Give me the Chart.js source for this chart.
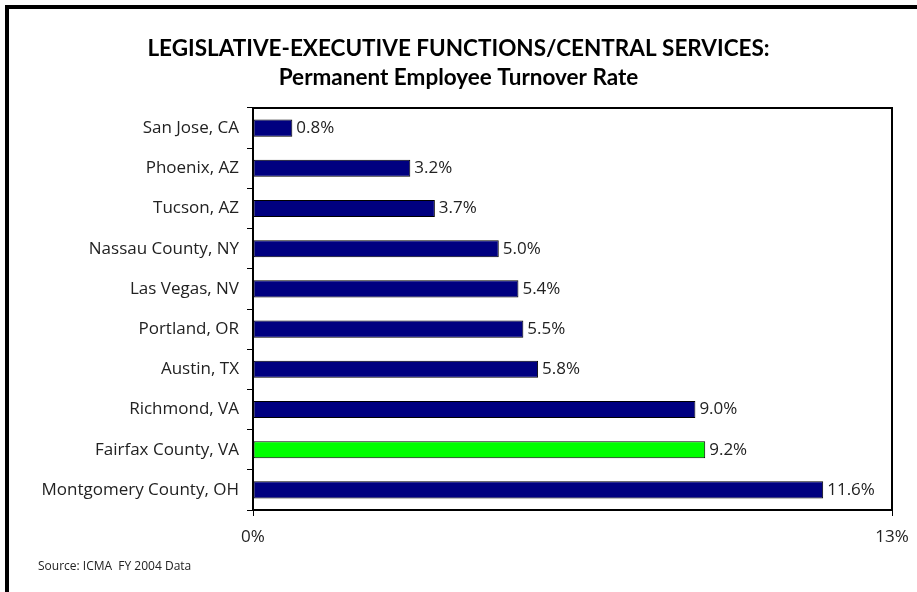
<!DOCTYPE html>
<html>
<head>
<meta charset="utf-8">
<script src="https://cdn.jsdelivr.net/npm/chart.js@4/dist/chart.umd.min.js"></script>
<style>
  body { margin: 0; background: #fff; }
  #wrap { position: relative; width: 917px; height: 592px; }
</style>
</head>
<body>
<div id="wrap"><canvas id="turnoverChart" width="917" height="592"></canvas></div>
<script>
const cities = ['San Jose, CA', 'Phoenix, AZ', 'Tucson, AZ', 'Nassau County, NY', 'Las Vegas, NV',
  'Portland, OR', 'Austin, TX', 'Richmond, VA', 'Fairfax County, VA', 'Montgomery County, OH'];
const turnover = [0.8, 3.2, 3.7, 5.0, 5.4, 5.5, 5.8, 9.0, 9.2, 11.6];
const axisTicks = [0, 13];
const highlight = 'Fairfax County, VA';
const sourceNote = 'Source: ICMA  FY 2004 Data';

const FONT = '"Open Sans", Lato, sans-serif';
const TITLE_FONT = 'Lato, "Open Sans", sans-serif';

// frame around the plot, outer page border, value labels, source note
const decor = {
  id: 'decor',
  afterDraw(chart) {
    const { ctx, chartArea: a } = chart;
    ctx.save();
    ctx.fillStyle = '#000';
    ctx.fillRect(5, 5, 912, 4);
    ctx.fillRect(5, 5, 4, 587);
    ctx.strokeStyle = '#000';
    ctx.lineWidth = 2;
    ctx.strokeRect(a.left, a.top, a.right - a.left, a.bottom - a.top);

    ctx.font = '17px ' + FONT;
    ctx.fillStyle = '#222';
    ctx.textBaseline = 'middle';
    chart.getDatasetMeta(0).data.forEach((bar, i) => {
      ctx.fillText(turnover[i].toFixed(1) + '%', bar.x + 4, bar.y);
    });

    ctx.font = '12px ' + FONT;
    ctx.fillText(sourceNote, 38, 567);
    ctx.restore();
  }
};

new Chart(document.getElementById('turnoverChart'), {
  type: 'bar',
  data: {
    labels: cities,
    datasets: [{
      data: turnover,
      backgroundColor: cities.map(c => c === highlight ? '#00ff00' : '#000080'),
      borderColor: '#000',
      borderWidth: 1,
      borderSkipped: false,
      barPercentage: 0.85,
      categoryPercentage: 0.5
    }]
  },
  options: {
    indexAxis: 'y',
    responsive: false,
    animation: false,
    layout: { padding: { left: 25, right: 25, top: 0, bottom: 0 } },
    plugins: {
      legend: { display: false },
      tooltip: { enabled: false },
      title: {
        display: true,
        text: ['LEGISLATIVE-EXECUTIVE FUNCTIONS/CENTRAL SERVICES:', 'Permanent Employee Turnover Rate'],
        color: '#000',
        font: { family: TITLE_FONT, size: 22.5, weight: 'bold', lineHeight: 1.3 },
        padding: { top: 34, bottom: 15.5 }
      }
    },
    scales: {
      x: {
        min: 0,
        max: 13,
        afterBuildTicks: s => { s.ticks = axisTicks.map(v => ({ value: v })); },
        afterFit: s => { s.height = 82; s.paddingRight = 0; s.paddingLeft = 0; },
        ticks: {
          callback: v => v + '%',
          color: '#222',
          font: { family: FONT, size: 17 },
          padding: 11,
          maxRotation: 0
        },
        grid: { drawOnChartArea: false, tickLength: 6, color: '#000' },
        border: { display: false }
      },
      y: {
        afterFit: s => { s.width = 228; },
        ticks: { color: '#222', font: { family: FONT, size: 17 }, padding: 8 },
        grid: { offset: true, drawOnChartArea: false, tickLength: 6, color: '#000' },
        border: { display: false }
      }
    }
  },
  plugins: [decor]
});
</script>
</body>
</html>
